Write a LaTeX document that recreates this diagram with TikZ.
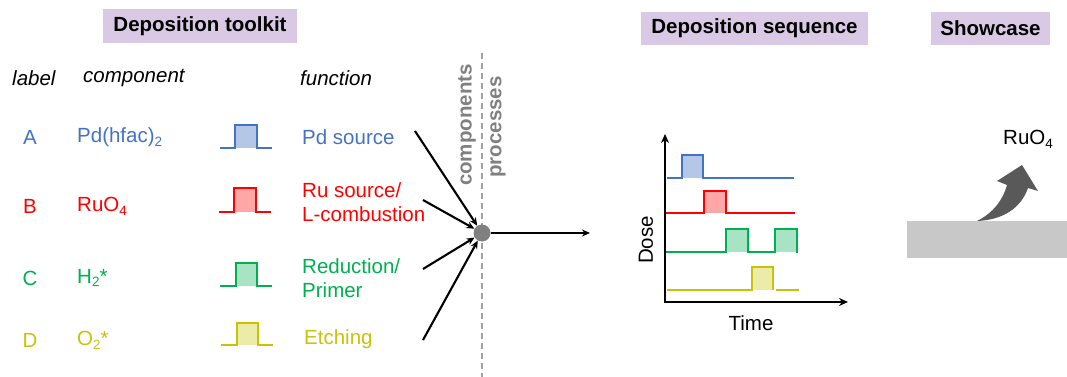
\documentclass[tikz,border=0pt]{standalone}
\usepackage{fontspec}
\setmainfont{Liberation Sans}
\usetikzlibrary{arrows.meta}
\definecolor{cA}{HTML}{4472C4}\definecolor{fA}{HTML}{B4C7E7}
\definecolor{cB}{HTML}{FF0000}\definecolor{fB}{HTML}{FFA7A7}
\definecolor{cC}{HTML}{00B050}\definecolor{fC}{HTML}{A8E3C4}
\definecolor{cD}{HTML}{C8C20A}\definecolor{fD}{HTML}{EDEBA8}
\definecolor{titlefill}{RGB}{217,201,228}
\definecolor{dotgray}{HTML}{808080}
\definecolor{slabgray}{HTML}{C8C8C8}
\definecolor{arrowgray}{HTML}{595959}
\newcommand\subsc[1]{\raisebox{-0.35ex}{\fontsize{13.5}{14}\selectfont #1}}
\begin{document}
\begin{tikzpicture}[x=1pt,y=-1pt,
  font=\fontsize{20.5}{24}\selectfont,
  txt/.style={inner sep=0pt, anchor=west},
  ctxt/.style={inner sep=0pt},
  titlebox/.style={fill=titlefill, inner sep=0pt, font=\fontsize{20.5}{24}\selectfont\bfseries},
  hdr/.style={inner sep=0pt, anchor=west, font=\fontsize{20.5}{24}\selectfont\itshape},
  pl/.style={line width=2.9pt},
  conn/.style={line width=2.1pt, -{Stealth[length=8pt,width=7pt]}},
  axis/.style={line width=2.6pt},
  rot/.style={inner sep=0pt, rotate=90, text=dotgray, font=\fontsize{20.5}{24}\selectfont\bfseries}
]
\useasboundingbox (0,0) rectangle (1067,377);

% titles
\node[titlebox, minimum width=194pt, minimum height=34pt] (t1) at (200,26) {Deposition toolkit};
\node[titlebox, minimum width=227pt, minimum height=33pt] (t2) at (754.5,28.5) {Deposition sequence};
\node[titlebox, minimum width=119pt, minimum height=33pt] (t3) at (990.5,28.5) {Showcase};

% headers
\node[hdr] (hl) at (12,78) {label};
\node[hdr] (hc) at (83,78) {component};
\node[hdr] (hf) at (300,78) {function};

% rows
\node[ctxt, text=cA] (lA) at (30,137) {A};
\node[ctxt, text=cB] (lB) at (30,206) {B};
\node[ctxt, text=cC] (lC) at (30,278) {C};
\node[ctxt, text=cD] (lD) at (30,340) {D};

\node[txt, text=cA] (cpA) at (77,137) {Pd(hfac)\subsc{2}};
\node[txt, text=cB] (cpB) at (77,206) {RuO\subsc{4}};
\node[txt, text=cC] (cpC) at (77,278) {H\subsc{2}*};
\node[txt, text=cD] (cpD) at (77,340) {O\subsc{2}*};

\node[txt, text=cA] (fnA) at (302,137) {Pd source};
\node[txt, text=cB, align=left] (fnB) at (302,202.5) {Ru source/\\L-combustion};
\node[txt, text=cC, align=left] (fnC) at (302,278.5) {Reduction/\\Primer};
\node[txt, text=cD] (fnD) at (304,339) {Etching};

% pulse icons
\fill[fA] (235,125) rectangle (257,148);
\draw[pl, cA] (220,148) -- (235,148) -- (235,125) -- (257,125) -- (257,148) -- (272,148);
\fill[fB] (234,188) rectangle (256,212);
\draw[pl, cB] (219,212) -- (234,212) -- (234,188) -- (256,188) -- (256,212) -- (271,212);
\fill[fC] (236,263) rectangle (257,286);
\draw[pl, cC] (220,286) -- (236,286) -- (236,263) -- (257,263) -- (257,286) -- (272,286);
\fill[fD] (237,323) rectangle (258,345);
\draw[pl, cD] (221,345) -- (237,345) -- (237,323) -- (258,323) -- (258,345) -- (273,345);

% divider
\draw[dotgray!75, line width=1.6pt, dash pattern=on 6pt off 4pt] (482,53) -- (482,377);
\node[rot] (comp) at (467,125) {components};
\node[rot] (proc) at (498,127) {processes};

% hub
\node[circle, fill=dotgray, minimum size=17pt, inner sep=0pt] (hub) at (482,233) {};
\coordinate (sA) at (415,131);
\coordinate (sB) at (423,200);
\coordinate (sC) at (423,269);
\coordinate (sD) at (423,340);
\coordinate (out) at (590,233);
\draw[conn] (sA) -- (hub);
\draw[conn] (sB) -- (hub);
\draw[conn] (sC) -- (hub);
\draw[conn] (sD) -- (hub);
\draw[conn] (hub) -- (out);

% chart
\coordinate (org) at (665,302);
\coordinate (ytip) at (665,134);
\coordinate (xtip) at (848,302);
\draw[axis, {Stealth[length=9pt,width=8pt]}-{Stealth[length=9pt,width=8pt]}] (ytip) -- (org) -- (xtip);
\node[ctxt, rotate=90] (dose) at (646,240) {Dose};
\node[ctxt] (time) at (751,323) {Time};

\fill[fA] (682,155) rectangle (703,178);
\draw[pl, cA] (667,178) -- (682,178) -- (682,155) -- (703,155) -- (703,178) -- (794,178);
\fill[fB] (704,191) rectangle (726,213);
\draw[pl, cB] (666,213) -- (704,213) -- (704,191) -- (726,191) -- (726,213) -- (795,213);
\fill[fC] (726,229) rectangle (748,252);
\fill[fC] (775,229) rectangle (797,252);
\draw[pl, cC] (666,252) -- (726,252) -- (726,229) -- (748,229) -- (748,252) -- (775,252) -- (775,229) -- (797,229) -- (797,253);
\fill[fD] (752,267) rectangle (773,290);
\draw[pl, cD] (667,290) -- (752,290) -- (752,267) -- (773,267) -- (773,290);
\draw[pl, cD] (776,290) -- (799,290);

% showcase
\fill[slabgray] (907,221) rectangle (1067,258);
\fill[arrowgray] (977,221) .. controls (993,213) and (1003,200) .. (1007,185)
  -- (997,181) -- (1022,165) -- (1038,191) -- (1028,188)
  .. controls (1021,208) and (1003,220) .. (977,221) -- cycle;
\node[txt] (ru) at (1003,139) {RuO\subsc{4}};
\end{tikzpicture}
\end{document}
